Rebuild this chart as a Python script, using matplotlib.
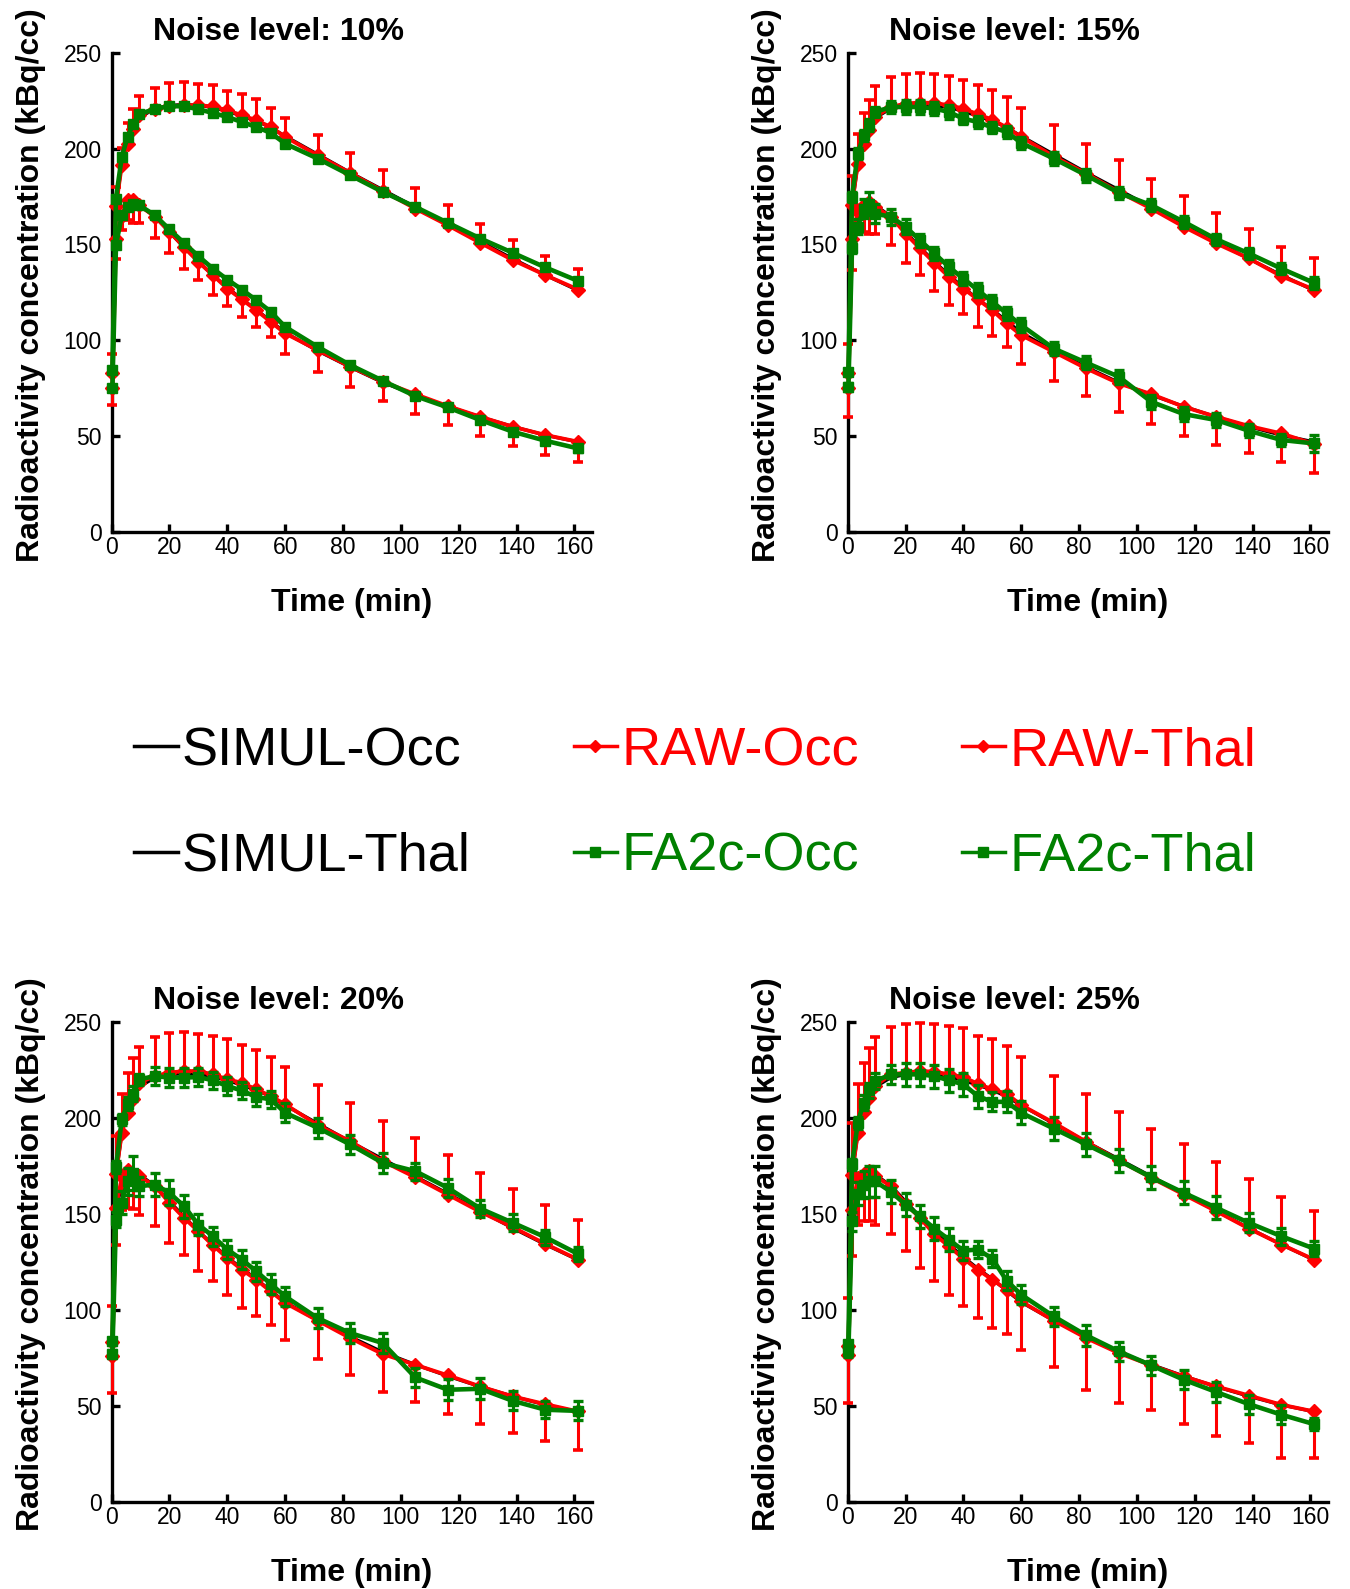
"""Simulated vs. noisy vs. filtered time-activity curves at four noise levels."""

import matplotlib

matplotlib.use("Agg")
import matplotlib.pyplot as plt
from matplotlib.lines import Line2D
import numpy as np

plt.rcParams["font.family"] = ["Liberation Sans", "DejaVu Sans"]

TIME = [0.25, 1.5, 3.5, 5.5, 7.5, 9.5, 15, 20, 25, 30, 35, 40, 45, 50, 55, 60,
        71.25, 82.5, 93.75, 105, 116.25, 127.5, 138.75, 150, 161.25]

SIMUL_OCC = [80, 170, 192, 203, 210, 216, 221, 222.5, 223, 222.5, 221.5, 219.5, 217,
             214.5, 211, 206.5, 197, 187.5, 178.5, 169.5, 160.5, 151.5, 142.5, 134, 126]
SIMUL_THAL = [76, 151, 166, 171, 172, 170.5, 164.5, 156.5, 148.5, 141, 134, 127.5, 121.5,
              116, 110, 104, 94.5, 86, 78, 71.5, 65.5, 60, 55, 50.5, 47]

# noise 10%
RAW_OCC_10 = [83, 170, 191.3, 202.6, 210.4, 217.4, 220.8, 222, 222.6, 222.6, 222, 220, 217.4,
              214.8, 211.3, 206.1, 196.5, 187.3, 177.9, 168.7, 160, 150.8, 141.8, 134, 126.5]
RAW_OCC_ERR_10 = [10, 10, 9, 11, 10, 10, 11, 12, 12, 11, 11, 10, 11, 11, 10, 10,
                  10.5, 10.5, 11, 11, 10.5, 10, 10.5, 10, 10.5]
RAW_THAL_10 = [75, 152.6, 165, 173, 173.4, 170.5, 164.4, 156.6, 148.7, 140.9, 134, 127, 121.3,
               115.7, 109.6, 103.6, 94.9, 86.2, 78.4, 71.9, 65.7, 60.1, 54.9, 50.6, 47.1]
RAW_THAL_ERR_10 = [9, 10, 7.6, 10.4, 12, 9.2, 10.8, 11, 11.3, 9.5, 10.5, 9.2, 9, 9, 7.8, 10.5,
                   11.3, 10.8, 9.9, 10.4, 9.9, 10.1, 10.1, 10.5, 10.4]
FA2C_OCC_10 = [84.4, 173.9, 195.7, 206.1, 213, 217.9, 220.8, 222.1, 222.1, 220.5, 218.6, 216.5,
               213.9, 211.3, 208.2, 202.6, 194.8, 186.1, 177.4, 169.6, 161.3, 153.1, 145.6, 138, 131]
FA2C_OCC_ERR_10 = [1.5] * 25
FA2C_THAL_10 = [74.9, 149.6, 165.2, 169.6, 171.3, 170.5, 165.2, 157.8, 150.8, 143.9, 137.4, 131.7,
                126.5, 120.9, 114.9, 107, 96.6, 87.1, 78.9, 70.9, 65, 58.4, 52.3, 47.6, 43.6]
FA2C_THAL_ERR_10 = [1.5] * 24 + [2]

# noise 15%
RAW_OCC_15 = [83, 170.5, 192.2, 202.6, 209.6, 216.5, 221.7, 223.5, 224, 223.8, 222.6, 220.9, 217.9,
              215.1, 211, 206.1, 196, 187, 177.4, 168.7, 159.2, 150.5, 142.7, 133.4, 126.5]
RAW_OCC_ERR_15 = [15, 15.1, 15.3, 16, 15.9, 16, 15.7, 15.6, 15.4, 15.3, 15.1, 14.7, 15.1, 15.3,
                  15.9, 15.1, 16.2, 15.6, 16.5, 15.7, 16, 16, 15.1, 15.3, 16.2]
RAW_THAL_15 = [75, 152.6, 167, 170.5, 172.2, 169.6, 164.4, 155.7, 147.9, 140.4, 133.1, 127, 121.3,
               115.7, 108.8, 102.7, 94, 85.3, 77.5, 71.9, 65.3, 60.1, 55.3, 51.4, 45.9]
RAW_THAL_ERR_15 = [14.9, 15.7, 11, 13.9, 16.5, 14.3, 14.8, 15.3, 13.9, 14.6, 14.8, 13.4, 14.6, 13.5,
                   12.2, 15.1, 15.1, 14.4, 14.8, 15.6, 15.3, 14.7, 14.3, 14.7, 15]
FA2C_OCC_15 = [83.6, 174.8, 197.4, 206.9, 212.2, 219.1, 221.7, 221.7, 221.7, 220.9, 219.1, 215.6,
               213.9, 211, 208.7, 203, 194.8, 186.1, 176.9, 170.5, 161.8, 152.7, 145.3, 137.4, 130]
FA2C_OCC_ERR_15 = [1.5, 2.5, 3, 3, 3, 2.5, 3, 3.5, 3.5, 3.5, 3.5, 3, 3, 3, 3, 3, 3.5, 3.5, 3.3,
                   3, 3, 3, 3, 3, 3]
FA2C_THAL_15 = [75.8, 148.4, 159.2, 168.7, 171.3, 166.1, 164.4, 159.2, 152.2, 145.3, 138.3, 132.2,
                126.2, 120.1, 114, 107.9, 95.7, 88.3, 81, 67.9, 61.5, 58.4, 52.8, 48, 46.2]
FA2C_THAL_ERR_15 = [2, 3, 4, 5, 6, 5, 4, 4, 3.5, 3.5, 3.5, 3.5, 3.5, 3.5, 3.5, 3.5, 3.5, 3.5,
                    3.6, 3.5, 3.5, 3.5, 3.5, 3, 4.3]

# noise 20%
RAW_OCC_20 = [83, 170.5, 192.2, 202.6, 209.6, 218.2, 221.7, 223.5, 224.3, 224.3, 222.6, 220, 218.2,
              214.8, 211.3, 207, 196.2, 187.8, 177.4, 169, 160, 151, 143, 134.3, 126.2]
RAW_OCC_ERR_20 = [19, 19.9, 20, 20.9, 21.7, 18.6, 20.3, 20.8, 20.5, 19.5, 20, 20.8, 19.5, 20.3,
                  20.3, 19.4, 20.8, 20, 20.9, 20.6, 20.5, 20.3, 20, 20.2, 20.8]
RAW_THAL_20 = [76, 153, 169, 173, 170.5, 169.6, 164.4, 155.7, 147.9, 140.9, 133.6, 127, 120.9,
               115.7, 109.6, 103.6, 94.4, 85.3, 77, 71.4, 65.9, 60.1, 54.9, 50.9, 47.1]
RAW_THAL_ERR_20 = [19.4, 19.4, 16.8, 20, 17.8, 20, 20.9, 20.9, 19.5, 20.5, 18.4, 19.4, 19.9, 19.1,
                   17.7, 19.2, 19.9, 19.4, 19.8, 19.4, 20.2, 19.6, 19.1, 19.4, 20]
FA2C_OCC_20 = [83.6, 174.3, 199.1, 207.3, 212.5, 220, 221.7, 220.9, 220.9, 221.2, 219.5, 216.5,
               214.2, 210.8, 209.6, 202.6, 194.8, 186.1, 176.5, 172.2, 163.5, 152.7, 145.3, 137.8, 129.1]
FA2C_OCC_ERR_20 = [2, 3, 3, 3.5, 4, 3, 4.5, 4.8, 4.8, 4.5, 4.5, 4.5, 4.5, 4.5, 4.5, 5, 5.2, 5, 5,
                   4.5, 4.5, 4.5, 4.5, 4, 3.5]
FA2C_THAL_20 = [77, 147, 155.7, 167, 171.3, 164.4, 165.2, 160.9, 154, 144.4, 138.3, 131.4, 126.2,
                120.1, 113.5, 107, 95.7, 87.9, 82.7, 64.8, 58.4, 58.9, 52.6, 48, 47.4]
FA2C_THAL_ERR_20 = [2, 4, 6, 7, 8.7, 5, 6, 6.5, 6, 5.5, 5, 5, 5, 5, 5, 5, 5, 5, 5, 5, 5.5, 5.5,
                    5, 4.5, 5]

# noise 25%
RAW_OCC_25 = [81, 170, 192.2, 203.1, 210.4, 216.5, 222.6, 223.5, 224.3, 224, 222.6, 221.2, 217.7,
              214.8, 212.5, 206.6, 197.4, 187.5, 177.8, 168.7, 160, 151.3, 142.3, 134, 126.2]
RAW_OCC_ERR_25 = [25, 27.4, 25.5, 25.6, 26.1, 25.5, 24.7, 25.2, 25.2, 25, 25.2, 25.7, 24.9, 26,
                  24.9, 25, 24.3, 25, 25.3, 25.2, 26.1, 25.8, 25.6, 24.6, 25.5]
RAW_THAL_25 = [76.6, 152.2, 168.7, 170.5, 172.2, 169.6, 164.4, 155.2, 147.9, 139.3, 133.1, 126.7,
               120.9, 115.7, 110.5, 104.4, 94.4, 85.3, 77.5, 71.1, 65.3, 60.1, 55.4, 50.6, 47.1]
RAW_THAL_ERR_25 = [25.2, 24.3, 24.3, 24.4, 26.1, 25.2, 24.9, 24.7, 26.1, 24.1, 25.5, 24.9, 25.2,
                   25.2, 23.1, 25.2, 24.4, 26.9, 26.1, 23.1, 24.8, 26, 24.8, 27.5, 24]
FA2C_OCC_25 = [82, 175.7, 197.4, 207.8, 214.2, 219.1, 222.6, 222.6, 222.6, 221.7, 219.5, 217.4,
               211.3, 208.3, 208.3, 202.6, 194.4, 186.1, 177.8, 169, 160.9, 153.1, 145.3, 138.3, 131.9]
FA2C_OCC_ERR_25 = [2, 3, 3, 4, 4, 4, 5, 6, 6, 6, 6, 6, 6, 5, 5.5, 6, 6, 6, 6, 6, 6, 6, 5, 4.5, 4]
FA2C_THAL_25 = [78.4, 146.1, 160.4, 165.2, 167, 167, 161.4, 154.8, 148.7, 142.3, 136.6, 130.8,
                131.4, 126.7, 115.2, 107.9, 96.6, 86.7, 78.4, 71.1, 63.6, 57.2, 50.9, 45.4, 40.5]
FA2C_THAL_ERR_25 = [3, 5, 6, 7, 8, 8, 6, 6, 6, 6, 6, 5, 4.5, 4.5, 5, 5, 5, 5.5, 5, 5, 5, 5, 5, 5, 3]

X_TICKS = [0, 20, 40, 60, 80, 100, 120, 140, 160]
Y_TICKS = [0, 50, 100, 150, 200, 250]

RED = "#ff0000"
GREEN = "#008000"

PANELS = [
    (10, RAW_OCC_10, RAW_OCC_ERR_10, RAW_THAL_10, RAW_THAL_ERR_10,
     FA2C_OCC_10, FA2C_OCC_ERR_10, FA2C_THAL_10, FA2C_THAL_ERR_10),
    (15, RAW_OCC_15, RAW_OCC_ERR_15, RAW_THAL_15, RAW_THAL_ERR_15,
     FA2C_OCC_15, FA2C_OCC_ERR_15, FA2C_THAL_15, FA2C_THAL_ERR_15),
    (20, RAW_OCC_20, RAW_OCC_ERR_20, RAW_THAL_20, RAW_THAL_ERR_20,
     FA2C_OCC_20, FA2C_OCC_ERR_20, FA2C_THAL_20, FA2C_THAL_ERR_20),
    (25, RAW_OCC_25, RAW_OCC_ERR_25, RAW_THAL_25, RAW_THAL_ERR_25,
     FA2C_OCC_25, FA2C_OCC_ERR_25, FA2C_THAL_25, FA2C_THAL_ERR_25),
]

AXES_RECTS = [
    [0.0827, 0.6652, 0.3556, 0.3016],
    [0.6279, 0.6652, 0.3556, 0.3016],
    [0.0827, 0.0548, 0.3556, 0.3022],
    [0.6279, 0.0548, 0.3556, 0.3022],
]


def draw_panel(ax, panel):
    noise, raw_occ, raw_occ_err, raw_thal, raw_thal_err, fa_occ, fa_occ_err, fa_thal, fa_thal_err = panel
    t = np.array(TIME)
    zeros = np.zeros(len(t))

    for simul in (SIMUL_OCC, SIMUL_THAL):
        ax.plot(t, simul, color="black", lw=2.4, zorder=2)

    red_kw = dict(color=RED, ecolor=RED, lw=2.8, elinewidth=2.2, capsize=3.4, capthick=2.6,
                  marker="D", ms=7, zorder=3, clip_on=False)
    # raw curves only show one-sided error bars: up for Occ, down for Thal
    ax.errorbar(t, raw_occ, yerr=[zeros, raw_occ_err], **red_kw)
    ax.errorbar(t, raw_thal, yerr=[raw_thal_err, zeros], **red_kw)

    green_kw = dict(color=GREEN, ecolor=GREEN, lw=3.3, elinewidth=2.2, capsize=3.3, capthick=2.4,
                    marker="s", ms=7.2, zorder=4, clip_on=False)
    ax.errorbar(t, fa_occ, yerr=fa_occ_err, **green_kw)
    ax.errorbar(t, fa_thal, yerr=fa_thal_err, **green_kw)

    ax.set_xlim(0, 166)
    ax.set_ylim(0, 250)
    ax.set_xticks(X_TICKS)
    ax.set_yticks(Y_TICKS)
    for side in ("top", "right"):
        ax.spines[side].set_visible(False)
    for side in ("left", "bottom"):
        ax.spines[side].set_linewidth(2.4)
    ax.tick_params(direction="in", length=5.5, width=2.4, labelsize=16.5)
    ax.tick_params(axis="y", pad=7)
    ax.tick_params(axis="x", pad=3)

    ax.set_xlabel("Time (min)", fontsize=23, fontweight="bold")
    ax.set_ylabel("Radioactivity concentration (kBq/cc)", fontsize=23, fontweight="bold")
    ax.xaxis.set_label_coords(0.5, -0.117)
    ax.yaxis.set_label_coords(-0.137, 0.515)
    ax.text(0.348, 1.043, f"Noise level: {noise}%", transform=ax.transAxes,
            ha="center", va="center", fontsize=23, fontweight="bold")


def add_legend(fig):
    handles = [
        Line2D([], [], color="black", lw=2.5, label="SIMUL-Occ"),
        Line2D([], [], color="black", lw=2.5, label="SIMUL-Thal"),
        Line2D([], [], color=RED, lw=2.5, marker="D", ms=6.5, label="RAW-Occ"),
        Line2D([], [], color=GREEN, lw=2.5, marker="s", ms=6.5, label="FA2c-Occ"),
        Line2D([], [], color=RED, lw=2.5, marker="D", ms=6.5, label="RAW-Thal"),
        Line2D([], [], color=GREEN, lw=2.5, marker="s", ms=6.5, label="FA2c-Thal"),
    ]
    fig.legend(handles=handles, loc="center", bbox_to_anchor=(0.515, 0.494), ncol=3,
               frameon=False, prop={"family": ["Liberation Sans", "DejaVu Sans"], "size": 39},
               handlelength=0.8, handletextpad=0.08, columnspacing=1.9, labelspacing=1.03,
               labelcolor="linecolor", numpoints=1)


def main():
    fig = plt.figure(figsize=(13.5, 15.89), dpi=100)
    for rect, panel in zip(AXES_RECTS, PANELS):
        ax = fig.add_axes(rect)
        draw_panel(ax, panel)
    add_legend(fig)
    fig.savefig("out.png", dpi=100)
    plt.close(fig)


if __name__ == "__main__":
    main()
